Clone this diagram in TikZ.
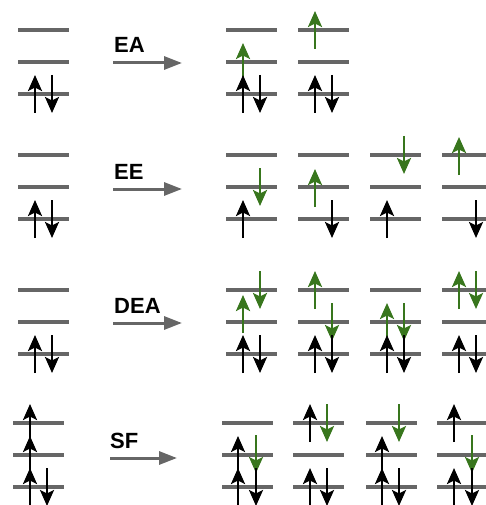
\documentclass[tikz,border=0pt]{standalone}
\usepackage{fontspec}
\setmainfont{Liberation Sans}
\usetikzlibrary{arrows.meta}
\definecolor{lvlgray}{HTML}{666666}
\definecolor{spingreen}{HTML}{38761D}
\tikzset{
  lvl/.style={line width=3.2pt, draw=lvlgray},
  spin/.style={line width=2.6pt, -{Stealth[length=16pt,width=14pt,inset=3.5pt]}},
  blk/.style={spin, draw=black},
  grn/.style={spin, draw=spingreen},
  rxn/.style={line width=3pt, draw=lvlgray, -{Triangle[length=18pt,width=13pt]}},
  lab/.style={font=\bfseries\fontsize{22}{22}\selectfont, anchor=base west, inner sep=0pt}
}
% three orbital levels: left x, top y
\newcommand{\orbitals}[2]{%
  \foreach \k in {0,1,2} \draw[lvl] (#1,#2+32*\k) -- ++(51,0);}
% spin arrows: style, x, centre y
\newcommand{\spinup}[3]{\draw[#1] (#2,#3+19) -- (#2,#3-19);}
\newcommand{\spindown}[3]{\draw[#1] (#2,#3-19) -- (#2,#3+19);}
\begin{document}
\begin{tikzpicture}[x=1pt,y=-1pt]
\useasboundingbox (0,0) rectangle (485,505);

% ---------- EA ----------
\orbitals{18}{30}
\spinup{blk}{35}{94}\spindown{blk}{52}{94}
\coordinate (eaS) at (113,63); \coordinate (eaE) at (182,63);
\draw[rxn] (eaS) -- (eaE);
\node[lab] (eaLabel) at (114,53) {EA};
\orbitals{226}{30}
\spinup{grn}{243}{62}
\spinup{blk}{243}{94}\spindown{blk}{260}{94}
\orbitals{298}{30}
\spinup{grn}{315}{30}
\spinup{blk}{315}{94}\spindown{blk}{332}{94}

% ---------- EE ----------
\orbitals{18}{155}
\spinup{blk}{35}{219}\spindown{blk}{52}{219}
\coordinate (eeS) at (113,189); \coordinate (eeE) at (182,189);
\draw[rxn] (eeS) -- (eeE);
\node[lab] (eeLabel) at (114,179) {EE};
\orbitals{226}{155}
\spindown{grn}{260}{187}\spinup{blk}{243}{219}
\orbitals{298}{155}
\spinup{grn}{315}{188}\spindown{blk}{332}{219}
\orbitals{370}{155}
\spindown{grn}{404}{155}\spinup{blk}{387}{219}
\orbitals{442}{155}
\spinup{grn}{459}{156}\spindown{blk}{476}{219}

% ---------- DEA ----------
\orbitals{18}{290}
\spinup{blk}{35}{354}\spindown{blk}{52}{354}
\coordinate (deaS) at (113,323); \coordinate (deaE) at (182,323);
\draw[rxn] (deaS) -- (deaE);
\node[lab] (deaLabel) at (114,313) {DEA};
\orbitals{226}{290}
\spinup{grn}{243}{314}\spindown{grn}{260}{290}
\spinup{blk}{243}{354}\spindown{blk}{260}{354}
\orbitals{298}{290}
\spinup{grn}{315}{290}\spindown{grn}{332}{322}
\spinup{blk}{315}{354}\spindown{blk}{332}{354}
\orbitals{370}{290}
\spinup{grn}{387}{322}\spindown{grn}{404}{322}
\spinup{blk}{387}{354}\spindown{blk}{404}{354}
\orbitals{442}{290}
\spinup{grn}{459}{290}\spindown{grn}{476}{290}
\spinup{blk}{459}{354}\spindown{blk}{476}{354}

% ---------- SF ----------
\orbitals{13}{423}
\spinup{blk}{30}{487}\spinup{blk}{30}{455}\spinup{blk}{30}{423}
\spindown{blk}{47}{487}
\coordinate (sfS) at (110,458); \coordinate (sfE) at (177,458);
\draw[rxn] (sfS) -- (sfE);
\node[lab] (sfLabel) at (110,448) {SF};
\orbitals{222}{423}
\spindown{grn}{256}{454}
\spinup{blk}{238}{487}\spinup{blk}{238}{455}\spindown{blk}{256}{487}
\orbitals{293}{423}
\spindown{grn}{327}{423}\spinup{blk}{310}{423}
\spinup{blk}{310}{487}\spindown{blk}{327}{487}
\orbitals{366}{423}
\spindown{grn}{399}{423}
\spinup{blk}{382}{487}\spinup{blk}{382}{455}\spindown{blk}{399}{487}
\orbitals{437}{423}
\spindown{grn}{472}{454}\spinup{blk}{454}{423}
\spinup{blk}{454}{487}\spindown{blk}{472}{487}
\end{tikzpicture}
\end{document}
